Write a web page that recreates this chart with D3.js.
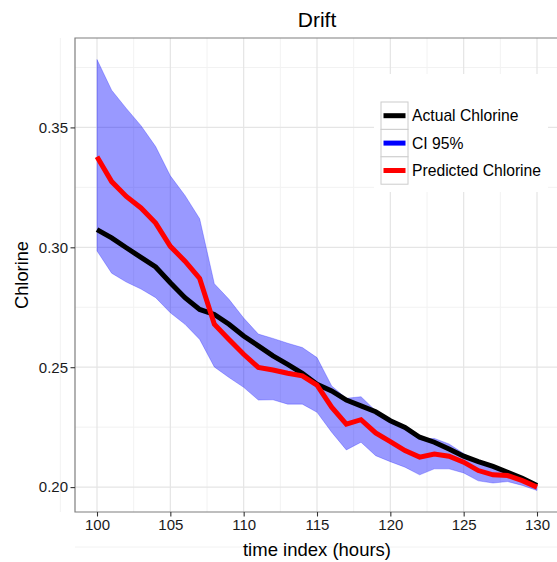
<!DOCTYPE html>
<html>
<head>
<meta charset="utf-8">
<script src="https://cdn.jsdelivr.net/npm/d3@7"></script>
<style>
  body { margin: 0; background: #fff; }
  svg text { font-family: "Liberation Sans", Arial, sans-serif; }
</style>
</head>
<body>
<div id="chart"></div>
<script>
const hours = d3.range(100, 131);
const actual = [0.3074, 0.3039, 0.2998, 0.2958, 0.2918, 0.2852, 0.2790, 0.2741, 0.2720, 0.2679,
  0.2630, 0.2589, 0.2547, 0.2512, 0.2474, 0.2429, 0.2401, 0.2363, 0.2339, 0.2314,
  0.2277, 0.2249, 0.2208, 0.2187, 0.2159, 0.2129, 0.2106, 0.2086, 0.2062, 0.2037, 0.2007];
const predicted = [0.3378, 0.3274, 0.3212, 0.3164, 0.3101, 0.3004, 0.2942, 0.2870, 0.2679, 0.2616,
  0.2554, 0.2499, 0.2488, 0.2475, 0.2464, 0.2425, 0.2333, 0.2263, 0.2281, 0.2226,
  0.2190, 0.2152, 0.2125, 0.2138, 0.2129, 0.2104, 0.2069, 0.2051, 0.2048, 0.2027, 0.2000];
const upper = [0.3783, 0.3655, 0.3579, 0.3507, 0.3420, 0.3298, 0.3216, 0.3119, 0.2848, 0.2783,
  0.2705, 0.2638, 0.2620, 0.2600, 0.2582, 0.2540, 0.2422, 0.2370, 0.2377, 0.2318,
  0.2284, 0.2249, 0.2201, 0.2203, 0.2180, 0.2140, 0.2104, 0.2083, 0.2055, 0.2032, 0.2010];
const lower = [0.2985, 0.2892, 0.2855, 0.2826, 0.2790, 0.2727, 0.2679, 0.2616, 0.2501, 0.2457,
  0.2416, 0.2363, 0.2364, 0.2346, 0.2346, 0.2312, 0.2229, 0.2155, 0.2187, 0.2131,
  0.2106, 0.2083, 0.2051, 0.2076, 0.2076, 0.2059, 0.2026, 0.2017, 0.2023, 0.2007, 0.1986];
const xTicks = [100, 105, 110, 115, 120, 125, 130];
const yTicks = [0.20, 0.25, 0.30, 0.35];
const legendLabels = ["Actual Chlorine", "CI 95%", "Predicted Chlorine"];
const legendColors = ["#000000", "#0000ff", "#ff0000"];

const W = 557, H = 562;
const margin = { top: 38, right: -2, bottom: 50, left: 75 };
const width = W - margin.left - margin.right;
const height = H - margin.top - margin.bottom;

const rows = hours.map((h, i) => ({ h, a: actual[i], p: predicted[i], lo: lower[i], hi: upper[i] }));

const svgRoot = d3.select("#chart").append("svg")
  .attr("width", W)
  .attr("height", H);

const svg = svgRoot.append("g")
  .attr("transform", `translate(${margin.left}, ${margin.top})`);

// ggplot-like 5% expansion
const xMin = 100, xMax = 130;
const yMin = d3.min(lower), yMax = d3.max(upper);
const x = d3.scaleLinear()
  .domain([xMin - (xMax - xMin) * 0.05, xMax + (xMax - xMin) * 0.05])
  .range([0, width]);
const y = d3.scaleLinear()
  .domain([yMin - (yMax - yMin) * 0.05, yMax + (yMax - yMin) * 0.05])
  .range([height, 0]);

// grid
const xMinor = d3.range(97.5, 133, 5);
const yMinor = [0.175, 0.225, 0.275, 0.325, 0.375];
svg.append("g").selectAll("line").data(xMinor).enter().append("line")
  .attr("x1", d => x(d)).attr("x2", d => x(d)).attr("y1", 0).attr("y2", height)
  .style("stroke", "#f2f2f2").style("stroke-width", 1);
svg.append("g").selectAll("line").data(yMinor).enter().append("line")
  .attr("y1", d => y(d)).attr("y2", d => y(d)).attr("x1", 0).attr("x2", width)
  .style("stroke", "#f2f2f2").style("stroke-width", 1);
svg.append("g").selectAll("line").data(xTicks).enter().append("line")
  .attr("x1", d => x(d)).attr("x2", d => x(d)).attr("y1", 0).attr("y2", height)
  .style("stroke", "#e5e5e5").style("stroke-width", 1.2);
svg.append("g").selectAll("line").data(yTicks).enter().append("line")
  .attr("y1", d => y(d)).attr("y2", d => y(d)).attr("x1", 0).attr("x2", width)
  .style("stroke", "#e5e5e5").style("stroke-width", 1.2);

// ribbon
const area = d3.area()
  .x(d => x(d.h))
  .y0(d => y(d.lo))
  .y1(d => y(d.hi));
svg.append("path")
  .datum(rows)
  .attr("d", area)
  .style("fill", "#0000ff")
  .style("fill-opacity", 0.4)
  .style("stroke", "#0000ff")
  .style("stroke-opacity", 0.25)
  .style("stroke-width", 1);

const line = key => d3.line().x(d => x(d.h)).y(d => y(d[key]));
svg.append("path").datum(rows).attr("d", line("a"))
  .style("fill", "none").style("stroke", "#000").style("stroke-width", 5);
svg.append("path").datum(rows).attr("d", line("p"))
  .style("fill", "none").style("stroke", "#ff0000").style("stroke-width", 5);

// panel border (left, top, bottom)
svg.append("path")
  .attr("d", `M${width},0H0V${height}H${width}`)
  .style("fill", "none").style("stroke", "#7f7f7f").style("stroke-width", 1.2);

// axes
const xAxis = svg.append("g")
  .attr("transform", `translate(0, ${height})`)
  .call(d3.axisBottom(x).tickValues(xTicks).tickSize(4.5).tickPadding(3).tickFormat(d3.format("d")));
const yAxis = svg.append("g")
  .call(d3.axisLeft(y).tickValues(yTicks).tickSize(4.5).tickPadding(2.5).tickFormat(d3.format(".2f")));
[xAxis, yAxis].forEach(g => {
  g.select(".domain").remove();
  g.selectAll(".tick line").style("stroke", "#333").style("stroke-width", 1.1);
  g.selectAll(".tick text").style("font-size", "15px").style("fill", "#1a1a1a");
});

// labels
svgRoot.append("text")
  .attr("x", margin.left + x(115))
  .attr("y", 27)
  .style("text-anchor", "middle")
  .style("font-size", "21px")
  .text("Drift");
svgRoot.append("text")
  .attr("x", margin.left + x(115))
  .attr("y", 556)
  .style("text-anchor", "middle")
  .style("font-size", "18.5px")
  .text("time index (hours)");
svgRoot.append("text")
  .attr("transform", "rotate(-90)")
  .attr("x", -(margin.top + height / 2))
  .attr("y", 28)
  .style("text-anchor", "middle")
  .style("font-size", "18.3px")
  .text("Chlorine");

// legend
const legend = svgRoot.append("g").attr("transform", "translate(374, 74)");
legend.append("rect")
  .attr("width", 174).attr("height", 118)
  .style("fill", "#fff");
const keyH = 27.4;
const items = legend.selectAll("g.item").data(legendLabels).enter().append("g")
  .attr("class", "item")
  .attr("transform", (d, i) => `translate(7, ${28 + i * keyH})`);
items.append("rect")
  .attr("width", 27).attr("height", keyH)
  .style("fill", "#fff").style("stroke", "#cccccc").style("stroke-width", 1);
items.append("line")
  .attr("x1", 2.5).attr("x2", 24.5)
  .attr("y1", keyH / 2).attr("y2", keyH / 2)
  .style("stroke", (d, i) => legendColors[i])
  .style("stroke-width", 5);
items.append("text")
  .attr("x", 31)
  .attr("y", keyH / 2)
  .attr("dy", "0.35em")
  .style("font-size", "15.7px")
  .text(d => d);
</script>
</body>
</html>
